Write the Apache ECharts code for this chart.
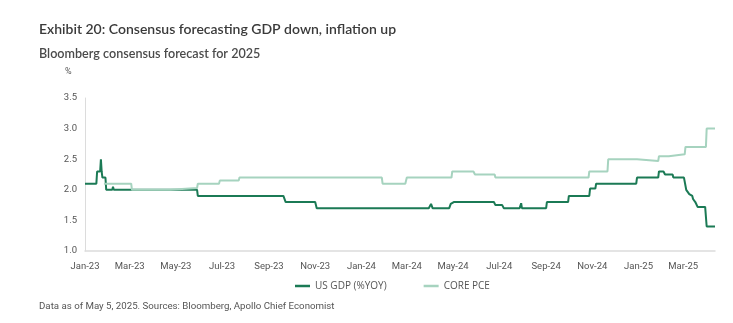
<!DOCTYPE html>
<html>
<head>
<meta charset="utf-8">
<script src="https://cdn.jsdelivr.net/npm/echarts@6/dist/echarts.min.js"></script>
<style>
html,body{margin:0;padding:0;background:#fff;}
#chart{width:733px;height:323px;}
</style>
</head>
<body>
<div id="chart"></div>
<script>
// ---- Data ----
const seriesNames = ['US GDP (%YOY)', 'CORE PCE'];

const gdpDates = [
  '2023-01-01','2023-01-16','2023-01-17','2023-01-21','2023-01-22','2023-01-23','2023-01-24','2023-01-28','2023-01-29',
  '2023-02-06','2023-02-07','2023-02-08','2023-05-29','2023-05-30','2023-07-12','2023-07-13','2023-07-14',
  '2023-09-20','2023-09-23','2023-11-01','2023-11-03','2024-03-30','2024-04-02','2024-04-04',
  '2024-04-26','2024-04-28','2024-04-29','2024-05-02','2024-06-24','2024-06-26','2024-07-05','2024-07-07',
  '2024-07-28','2024-07-30','2024-07-31','2024-09-01','2024-09-02','2024-09-30','2024-10-01',
  '2024-10-28','2024-10-29','2024-11-05','2024-11-06','2024-12-29','2024-12-30','2025-01-27','2025-01-28',
  '2025-02-03','2025-02-05','2025-02-15','2025-02-16','2025-03-02','2025-03-05','2025-03-09','2025-03-13',
  '2025-03-14','2025-03-16','2025-03-17','2025-03-19','2025-03-20','2025-03-30','2025-04-01','2025-04-12'
];
const gdpValues = [
  2.1,2.1,2.3,2.3,2.5,2.3,2.2,2.2,2.0,
  2.0,2.05,2.0,2.0,1.9,1.9,1.93,1.9,
  1.9,1.8,1.8,1.7,1.7,1.77,1.7,
  1.7,1.77,1.75,1.8,1.8,1.75,1.75,1.7,
  1.7,1.78,1.7,1.7,1.8,1.8,1.9,
  1.9,2.02,2.02,2.1,2.1,2.2,2.2,2.3,
  2.3,2.25,2.25,2.2,2.2,2.0,1.93,1.9,
  1.85,1.83,1.8,1.8,1.72,1.72,1.4,1.4
];

const pceDates = [
  '2023-01-26','2023-03-03','2023-03-04','2023-04-24','2023-04-25','2023-05-29','2023-05-30',
  '2023-06-27','2023-06-28','2023-07-23','2023-07-24','2024-01-28','2024-01-29','2024-02-28','2024-03-01',
  '2024-04-29','2024-04-30','2024-05-28','2024-05-30','2024-06-25','2024-06-26','2024-10-27','2024-10-28',
  '2024-11-21','2024-11-22','2024-12-30','2024-12-31','2025-01-27','2025-01-28','2025-02-10','2025-02-11',
  '2025-03-03','2025-03-04','2025-03-31','2025-04-01','2025-04-12'
];
const pceValues = [
  2.1,2.1,2.0,2.0,2.03,2.03,2.1,
  2.1,2.15,2.15,2.2,2.2,2.1,2.1,2.2,
  2.2,2.3,2.3,2.25,2.25,2.2,2.2,2.3,
  2.3,2.5,2.5,2.47,2.47,2.55,2.55,2.58,
  2.58,2.7,2.7,3.0,3.0
];

const tickDates = ['2023-01-01','2023-03-01','2023-05-01','2023-07-01','2023-09-01','2023-11-01','2024-01-01',
  '2024-03-01','2024-05-01','2024-07-01','2024-09-01','2024-11-01','2025-01-01','2025-03-01'];
const tickLabels = ['Jan-23','Mar-23','May-23','Jul-23','Sep-23','Nov-23','Jan-24',
  'Mar-24','May-24','Jul-24','Sep-24','Nov-24','Jan-25','Mar-25'];

const yMin = 1.0, yMax = 3.5, yStep = 0.5;
const xStart = '2023-01-01', xEnd = '2025-04-12';

// ---- Build ----
function toTs(s){ const p = s.split('-').map(Number); return Date.UTC(p[0], p[1]-1, p[2]); }
const tickTs = tickDates.map(toTs);
const gdpData = gdpDates.map((d,i)=>[toTs(d), gdpValues[i]]);
const pceData = pceDates.map((d,i)=>[toTs(d), pceValues[i]]);

const DARK = '#1b7a55';
const LIGHT = '#a6d3bf';
const FONT = 'Roboto, "Liberation Sans", sans-serif';

const chart = echarts.init(document.getElementById('chart'), null, {renderer:'canvas'});
chart.setOption({
  animation: false,
  backgroundColor: '#fff',
  title: [
    {text: 'Exhibit 20: Consensus forecasting GDP down, inflation up', left: 34, top: 17, padding: 5,
     textStyle: {fontFamily: 'Lato, sans-serif', fontSize: 14, fontWeight: 600, color: '#3a3a3a'}},
    {text: 'Bloomberg consensus forecast for 2025', left: 34, top: 42, padding: 5,
     textStyle: {fontFamily: 'Lato, sans-serif', fontSize: 12.6, fontWeight: 600, color: '#4a4a4a'}},
    {text: 'Data as of May 5, 2025. Sources: Bloomberg, Apollo Chief Economist', left: 34, top: 297, padding: 5,
     textStyle: {fontFamily: FONT, fontSize: 9.7, fontWeight: 'normal', color: '#555'}}
  ],
  graphic: [
    {type: 'text', left: 65, top: 67, style: {text: '%', font: '9px ' + FONT, fill: '#555'}}
  ],
  legend: {
    data: seriesNames,
    left: 290, top: 276,
    icon: 'rect', itemWidth: 15, itemHeight: 2.5, itemGap: 37,
    textStyle: {fontFamily: '"Open Sans", sans-serif', fontSize: 10, color: '#555'}
  },
  grid: {left: 85, right: 18, top: 98, bottom: 72, containLabel: false},
  xAxis: {
    type: 'value',
    min: toTs(xStart), max: toTs(xEnd),
    axisLine: {show: true, lineStyle: {color: '#dcdcdc', width: 1.5}},
    axisTick: {show: false},
    splitLine: {show: false},
    axisLabel: {
      customValues: tickTs,
      formatter: function(v){ const i = tickTs.indexOf(v); return i >= 0 ? tickLabels[i] : ''; },
      fontFamily: FONT, fontSize: 9.5, color: '#555', margin: 11,
      showMinLabel: true, showMaxLabel: true, hideOverlap: false
    }
  },
  yAxis: {
    type: 'value', min: yMin, max: yMax, interval: yStep,
    axisLine: {show: true, lineStyle: {color: '#dcdcdc', width: 1}},
    axisTick: {show: false},
    splitLine: {show: false},
    axisLabel: {formatter: v => v.toFixed(1), fontFamily: FONT, fontSize: 9.5, color: '#555', margin: 8}
  },
  series: [
    {name: seriesNames[0], type: 'line', data: gdpData, symbol: 'none', color: DARK,
     lineStyle: {color: DARK, width: 2}},
    {name: seriesNames[1], type: 'line', data: pceData, symbol: 'none', color: LIGHT,
     lineStyle: {color: LIGHT, width: 2}}
  ]
});
</script>
</body>
</html>
